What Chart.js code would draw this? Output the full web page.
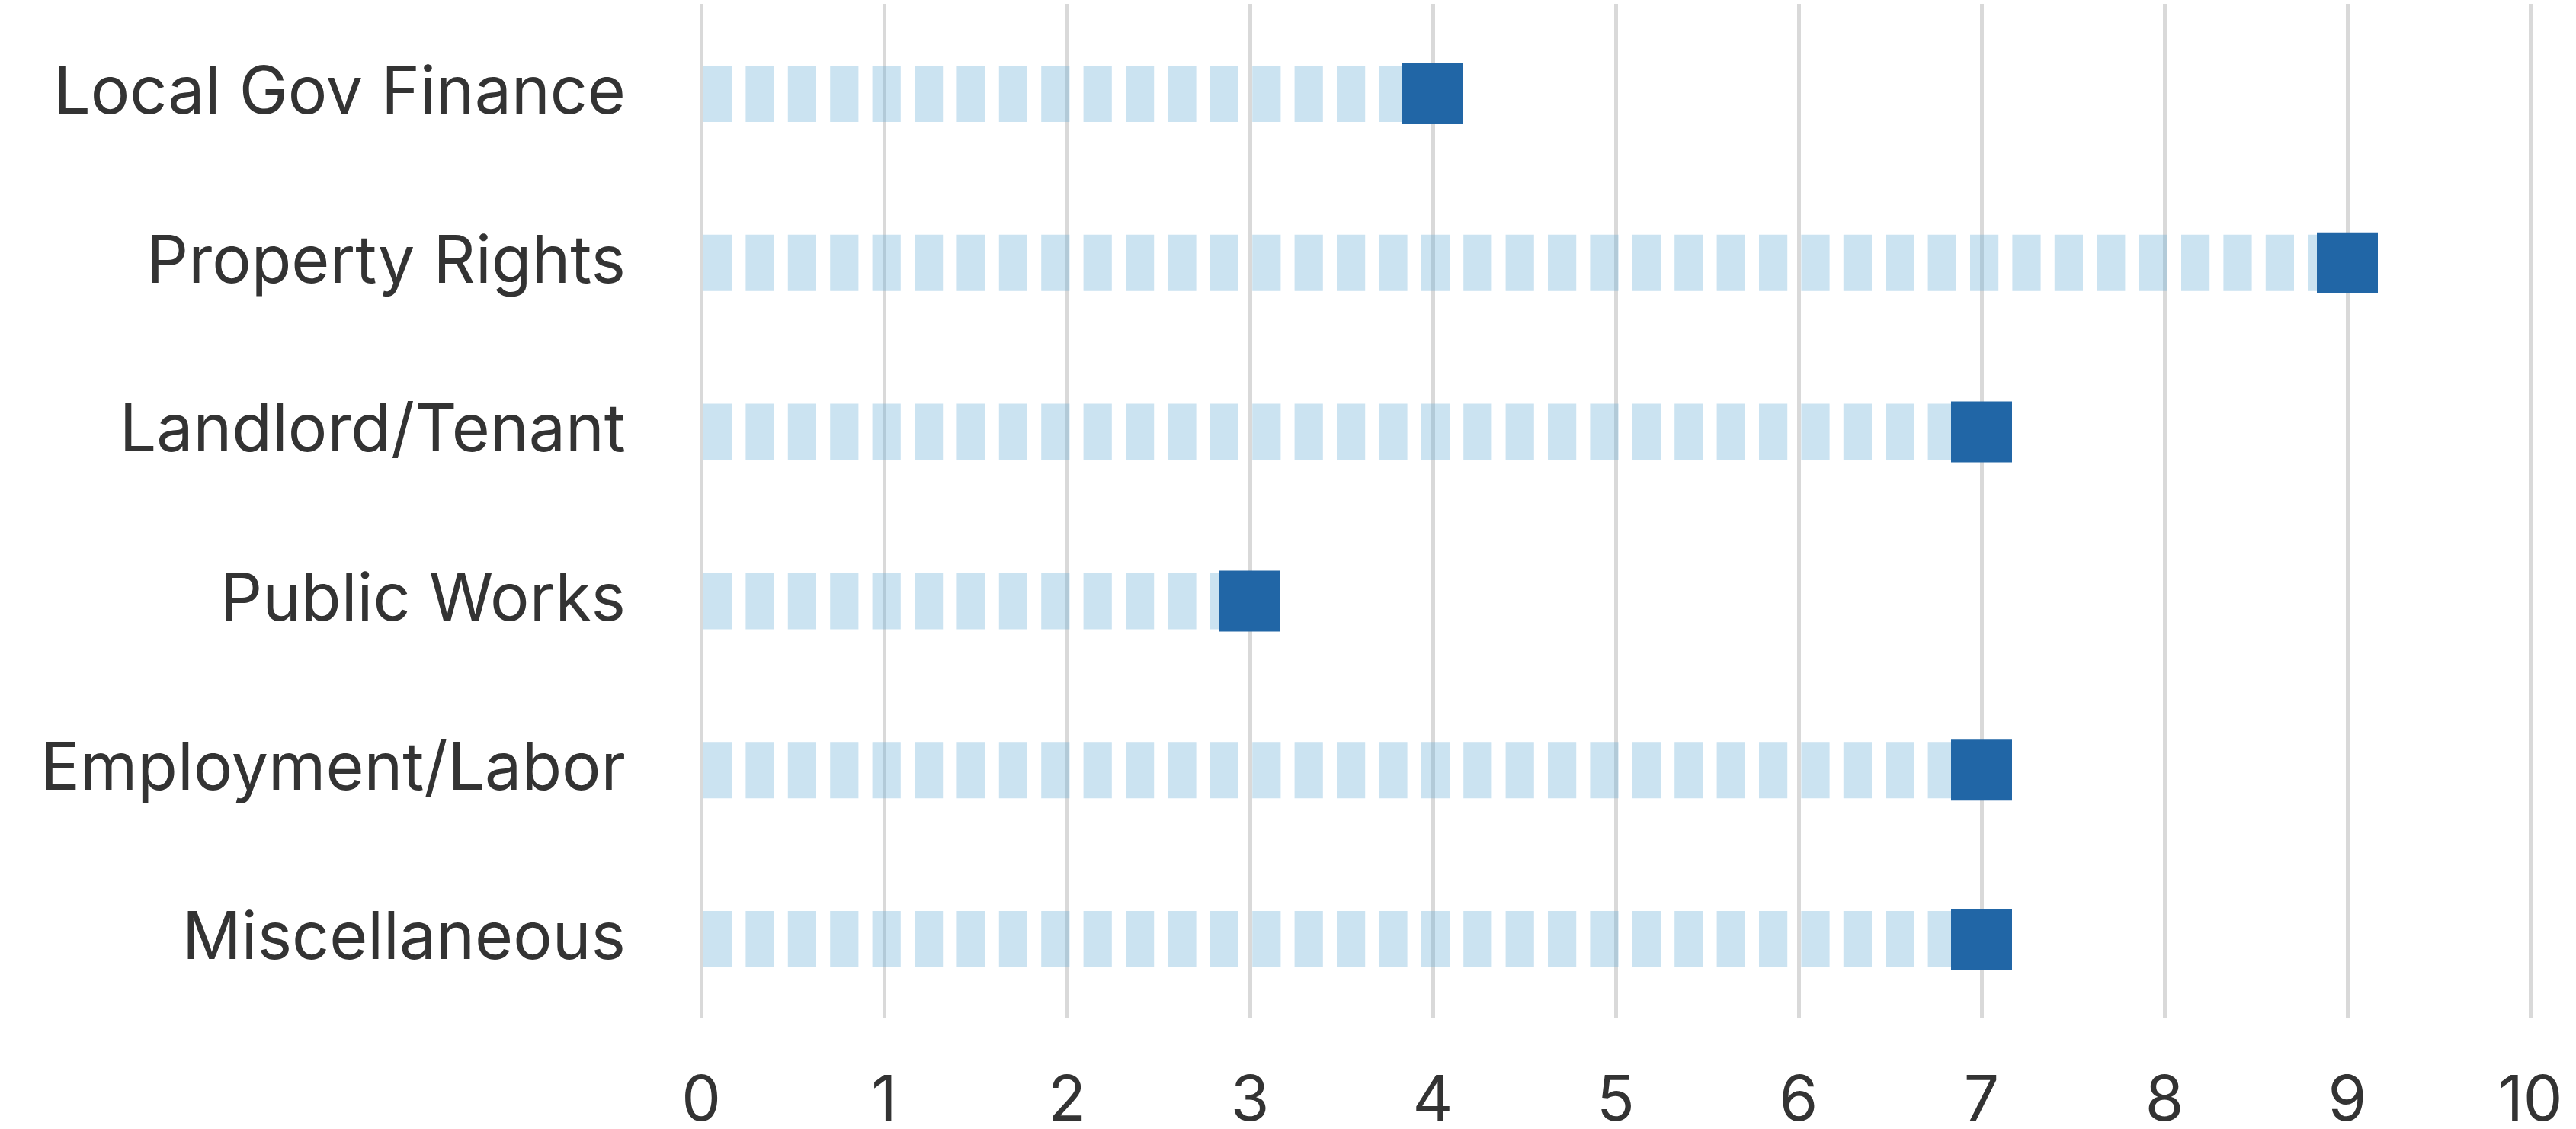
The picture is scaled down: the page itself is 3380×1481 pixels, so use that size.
<!DOCTYPE html>
<html>
<head>
<meta charset="utf-8">
<script src="https://cdn.jsdelivr.net/npm/chart.js@4"></script>
<style>
  html, body { margin: 0; padding: 0; background: #ffffff; }
  canvas { display: block; }
</style>
</head>
<body>
<canvas id="c" width="3380" height="1481"></canvas>
<script>
// ---- data ----
const categories = ["Local Gov Finance", "Property Rights", "Landlord/Tenant", "Public Works", "Employment/Labor", "Miscellaneous"];
const values = [4, 9, 7, 3, 7, 7];
const xTicks = [0, 1, 2, 3, 4, 5, 6, 7, 8, 9, 10];

// ---- styles ----
const FONT = "Inter";
const TEXT = "#333333";
const DASH_COLOR = "rgba(107,174,214,0.35)";
const SQUARE_COLOR = "#2166a6";

const lineSets = categories.map((c, i) => ({
  type: "scatter",
  showLine: true,
  data: [{ x: 0, y: i }, { x: values[i], y: i }],
  borderColor: DASH_COLOR,
  borderWidth: 74,
  borderDash: [37.2, 18.2],
  borderDashOffset: -3,
  borderCapStyle: "butt",
  pointRadius: 0,
  pointHoverRadius: 0,
  tension: 0,
  fill: false,
  order: 1
}));

const squareSet = {
  type: "scatter",
  data: values.map((v, i) => ({ x: v, y: i })),
  pointStyle: "rect",
  pointRadius: 40 / Math.SQRT1_2,
  pointHoverRadius: 40 / Math.SQRT1_2,
  backgroundColor: SQUARE_COLOR,
  borderColor: SQUARE_COLOR,
  borderWidth: 0,
  order: 0
};

function zeroPad(s) { s.paddingTop = 0; s.paddingBottom = 0; s.paddingLeft = 0; s.paddingRight = 0; }

new Chart(document.getElementById("c"), {
  type: "scatter",
  data: { datasets: [squareSet, ...lineSets] },
  options: {
    responsive: false,
    devicePixelRatio: 1,
    animation: false,
    events: [],
    layout: { autoPadding: false, padding: { top: 5, right: 60, bottom: 0, left: 0 } },
    plugins: { legend: { display: false }, tooltip: { enabled: false } },
    scales: {
      x: {
        type: "linear",
        min: 0,
        max: 10,
        afterBuildTicks: (s) => { s.ticks = xTicks.map(v => ({ value: v })); },
        afterFit: (s) => { s.height = 145; zeroPad(s); },
        grid: { color: "#d9d9d9", lineWidth: 5, drawTicks: false },
        border: { display: false },
        ticks: {
          font: { family: FONT, size: 82 },
          color: TEXT,
          padding: 60,
          maxRotation: 0,
          autoSkip: false
        }
      },
      y: {
        type: "linear",
        reverse: true,
        min: -0.532,
        max: 5.469,
        afterBuildTicks: (s) => { s.ticks = categories.map((c, i) => ({ value: i })); },
        afterFit: (s) => { s.width = 920; zeroPad(s); },
        grid: { display: false, drawTicks: false },
        border: { display: false },
        ticks: {
          font: { family: FONT, size: 86 },
          color: TEXT,
          padding: 99,
          autoSkip: false,
          callback: (v) => categories[v]
        }
      }
    }
  }
});
</script>
</body>
</html>
